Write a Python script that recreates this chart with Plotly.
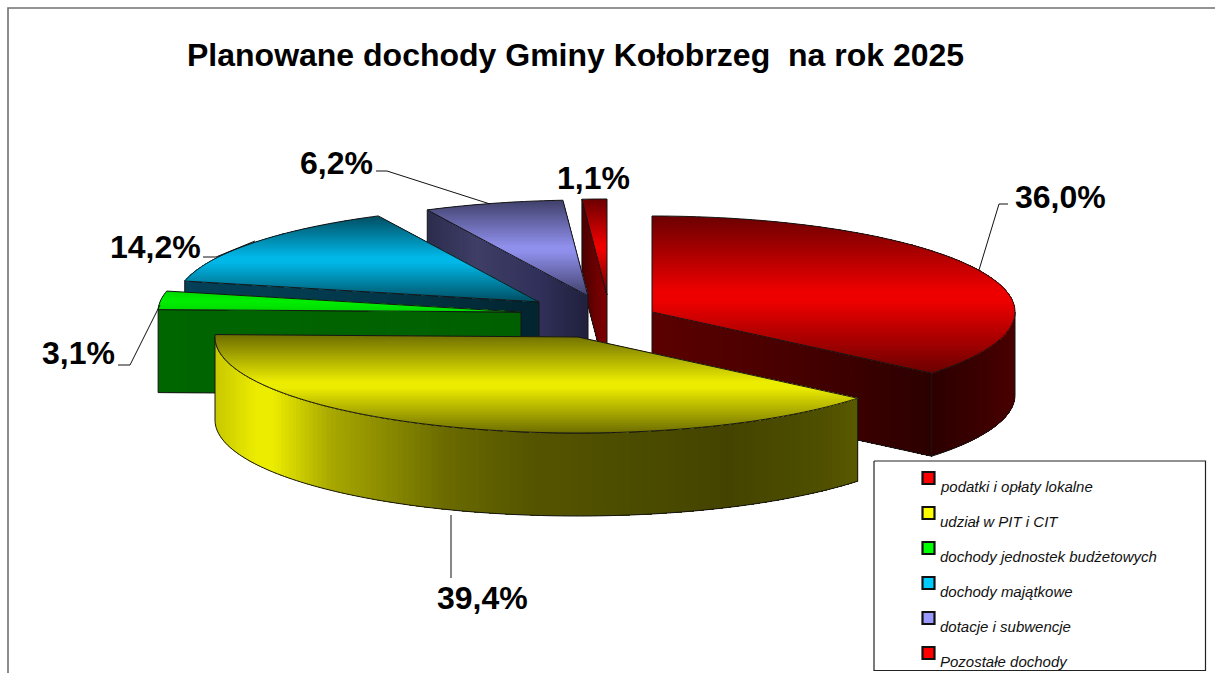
import math
import plotly.graph_objects as go

# ---------- data ----------
TITLE = "Planowane dochody Gminy Kołobrzeg\u00a0\u00a0na rok 2025"
categories = ["podatki i opłaty lokalne", "udział w PIT i CIT", "dochody jednostek budżetowych",
              "dochody majątkowe", "dotacje i subwencje", "Pozostałe dochody"]
shares = [36.0, 39.4, 3.1, 14.2, 6.2, 1.1]
share_labels = ["36,0%", "39,4%", "3,1%", "14,2%", "6,2%", "1,1%"]

# ---------- style / layout ----------
W, H = 1215, 673
RX, RY, DEPTH = 363, 96, 83
# exploded apex of each slice, in chart units
apex = [(652, 312), (578, 337), (521, 312), (539, 302), (588, 296), (607, 295)]
base_colors = ["#ee0000", "#ecec00", "#00ee00", "#00b8e8", "#8f8fec", "#ee0000"]
key_colors = ["#ff0000", "#ffff00", "#00ff00", "#00ccff", "#9999ff", "#ff0000"]
top_dark = [0.45, 0.46, 0.9, 0.42, 0.45, 0.45]
draw_order = [5, 4, 3, 2, 0, 1]
label_pos = [(1060, 197), (482, 598), (78, 353), (155, 247), (336, 163), (593, 178)]
leaders = {
    0: [(1008, 204), (999, 204), (979, 270)],
    1: [(451, 515), (451, 578)],
    2: [(118, 365), (130, 365), (160, 305)],
    3: [(203, 257), (216, 257), (255, 241)],
    4: [(376, 171), (387, 171), (490, 204)],
}
# wall colours: (fraction of wall width, colour)
cut_stops = {
    0: [(0, "#5c0000"), (0.5, "#470000"), (1, "#2c0000")],
    2: [(0, "#006600"), (1, "#006000")],
    3: [(0, "#044058"), (0.5, "#03384a"), (1, "#02242f")],
    4: [(0, "#2c2c4e"), (0.3, "#3e3e66"), (0.7, "#30305a"), (1, "#20203c")],
    5: [(0, "#4a0000"), (0.6, "#700000"), (1, "#800000")],
}
rim_stops = {
    0: [(0, "#2c0000"), (0.6, "#3c0000"), (1, "#4a0000")],
    1: [(0, "#c8c800"), (0.065, "#ecec00"), (0.09, "#ecec00"), (0.18, "#a8a800"), (0.36, "#6a6a00"),
        (0.49, "#555500"), (0.8, "#444400"), (0.95, "#505000"), (1, "#5a5a00")],
}
OUTLINE = "#151515"


def rgb(h):
    return tuple(int(h[i:i + 2], 16) for i in (1, 3, 5))


def mix(a, b, t):
    return tuple(a[i] + (b[i] - a[i]) * t for i in range(3))


def css(c):
    return "rgb(%d,%d,%d)" % tuple(round(v) for v in c)


def ramp(stops, t):
    t = min(1, max(0, t))
    for (p0, c0), (p1, c1) in zip(stops, stops[1:]):
        if t <= p1:
            return css(mix(rgb(c0), rgb(c1), (t - p0) / (p1 - p0)))
    return stops[-1][1]


def clip(poly, y0, y1):
    def half(pts, keep, cross):
        out = []
        for a, b in zip(pts, pts[1:] + pts[:1]):
            if keep(a):
                out.append(a)
            if keep(a) != keep(b):
                out.append(cross(a, b))
        return out

    def at(level):
        return lambda a, b: (a[0] + (b[0] - a[0]) * (level - a[1]) / (b[1] - a[1]), level)

    r = half(poly, lambda p: p[1] >= y0, at(y0))
    return half(r, lambda p: p[1] <= y1, at(y1)) if r else r


fig = go.Figure()


def fill(pts, color):
    xs = [p[0] for p in pts] + [pts[0][0]]
    ys = [p[1] for p in pts] + [pts[0][1]]
    fig.add_trace(go.Scatter(x=xs, y=ys, mode="none", fill="toself", fillcolor=color,
                             hoverinfo="skip", showlegend=False))


def stroke(pts, color=OUTLINE, width=1.0):
    fig.add_trace(go.Scatter(x=[p[0] for p in pts], y=[p[1] for p in pts], mode="lines",
                             line=dict(color=color, width=width, simplify=False),
                             hoverinfo="skip", showlegend=False))


def rim_point(i, deg, drop=0.0):
    a = math.radians(deg)
    cx, cy = apex[i]
    return (cx + RX * math.sin(a), cy - RY * math.cos(a) + drop)


def wall(top_pts, stops):
    """Paint back to front: each strip reaches to the far end, so no seams show."""
    top_pts = sorted(top_pts, key=lambda p: p[0])
    lo, hi = top_pts[0][0], top_pts[-1][0]
    for k in range(len(top_pts) - 1):
        col = ramp(stops, ((top_pts[k][0] + top_pts[k + 1][0]) / 2 - lo) / (hi - lo))
        rest = top_pts[k:]
        fill(rest + [(p[0], p[1] + DEPTH) for p in reversed(rest)], col)
    outline = top_pts + [(p[0], p[1] + DEPTH) for p in reversed(top_pts)] + [top_pts[0]]
    stroke(outline)


# angular extents from the data
total = sum(shares)
starts, ends, acc = [], [], 0.0
for v in shares:
    starts.append(acc / total * 360)
    acc += v
    ends.append(acc / total * 360)


def draw_slice(i):
    s, e = starts[i], ends[i]
    c = apex[i]
    steps = max(6, int(e - s))
    arc = [rim_point(i, s + (e - s) * k / steps) for k in range(steps + 1)]
    # cut wall facing the viewer
    if i in cut_stops:
        deg = e if i == 0 else s
        end = rim_point(i, deg)
        n = 40
        wall([(c[0] + (end[0] - c[0]) * k / n, c[1] + (end[1] - c[1]) * k / n) for k in range(n + 1)],
             cut_stops[i])
    # outer rim wall on the near side
    if i in rim_stops:
        a0, a1 = max(s, 90), min(e, 270)
        n = int(a1 - a0)
        wall([rim_point(i, a0 + (a1 - a0) * k / n) for k in range(n + 1)], rim_stops[i])
    # top face with vertical shading
    poly = [c] + arc
    ys = [p[1] for p in poly]
    y0, y1 = min(ys), max(ys)
    dark = mix(rgb(base_colors[i]), (0, 0, 0), 1 - top_dark[i])
    dark_hex = "#%02x%02x%02x" % tuple(round(v) for v in dark)
    stops = [(0, dark_hex), (0.48, base_colors[i]), (0.54, base_colors[i]), (1, dark_hex)]
    bands = max(8, int((y1 - y0) / 2))
    for k in range(bands):
        ya = y0 + (y1 - y0) * k / bands
        piece = clip(poly, ya, y1 + 1)
        if len(piece) >= 3:
            fill(piece, ramp(stops, (k + 0.5) / bands))
    stroke(poly + [c])


for i in draw_order:
    draw_slice(i)

# leader lines
for pts in leaders.values():
    stroke(pts, "#111111", 1.0)

# chart frame (open at the right and bottom)
stroke([(8, 673), (8, 8), (1215, 8)], "#707070", 1.6)

# legend box
stroke([(874, 461), (1205.5, 461), (1205.5, 670.5), (874, 670.5), (874, 461)], "#222222", 1.2)
for k, name in enumerate(categories):
    y = 478 + 35 * k
    fig.add_trace(go.Scatter(x=[928.5], y=[y], mode="markers", name=name, hoverinfo="name", showlegend=False,
                             marker=dict(symbol="square", size=12, color=key_colors[k],
                                         line=dict(color="#111111", width=2.2))))
    fig.add_annotation(x=938, y=y + 8, text=name, showarrow=False, xanchor="left", yanchor="middle",
                       font=dict(family="Liberation Sans", size=15, color="#111111", style="italic"))

# data labels
for i, txt in enumerate(share_labels):
    x, y = label_pos[i]
    fig.add_annotation(x=x, y=y, text="<b>%s</b>" % txt, showarrow=False, xanchor="center", yanchor="middle",
                       font=dict(family="Liberation Sans", size=32, color="black"))

fig.add_annotation(x=575.5, y=54.5, text="<b>%s</b>" % TITLE, showarrow=False, xanchor="center", yanchor="middle",
                   font=dict(family="Liberation Sans", size=32, color="black"))

fig.update_layout(
    width=W, height=H, margin=dict(l=0, r=0, t=0, b=0), autosize=False,
    paper_bgcolor="white", plot_bgcolor="white", showlegend=False,
    xaxis=dict(range=[0, W], visible=False, fixedrange=True),
    yaxis=dict(range=[H, 0], visible=False, fixedrange=True),
)
fig.write_html("out.html", config={"displayModeBar": False},
               default_width="%dpx" % W, default_height="%dpx" % H,
               post_script="document.body.style.margin='0';document.documentElement.style.overflow='hidden';")
